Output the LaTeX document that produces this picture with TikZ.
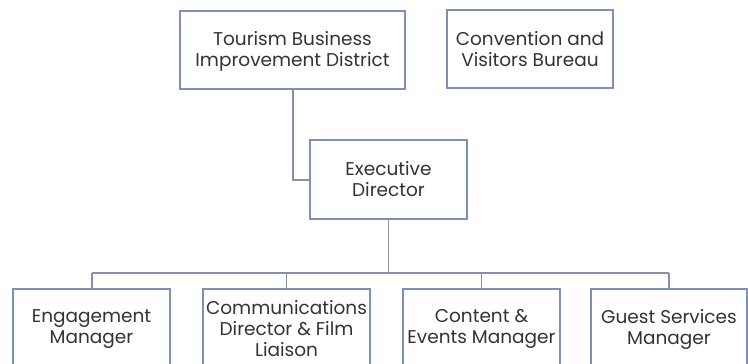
\documentclass[tikz,border=0pt]{standalone}
\usepackage{fontspec}
\setmainfont{Poppins}
\begin{document}
\begin{tikzpicture}[x=1pt,y=-1pt,
  box/.style={draw=boxc, line width=1.2pt, fill=white},
  lbl/.style={align=center, text=txtc, font=\fontsize{18.5}{21}\selectfont, inner sep=0pt},
  conn/.style={draw=linec, line width=1.3pt}]
\definecolor{boxc}{HTML}{7F90B8}
\definecolor{linec}{HTML}{8791AA}
\definecolor{txtc}{HTML}{333333}
\useasboundingbox (0,0) rectangle (748,364);
\clip (0,0) rectangle (748,364);
% connectors
\coordinate (busL) at (92,273);
\coordinate (busR) at (669,273);
\coordinate (bend) at (293,180);
\draw[conn] (293,89) -- (bend) -- (310,180);
\draw[conn] (388.5,219) -- (388.5,273);
\draw[conn] (busL) -- (busR);
\draw[conn] (92,273) -- (92,289);
\draw[conn] (286.5,273) -- (286.5,289);
\draw[conn] (481.5,273) -- (481.5,289);
\draw[conn] (669,273) -- (669,289);
% boxes
\draw[box] (180,11) rectangle (405,89);
\draw[box] (447,10) rectangle (613,88);
\draw[box] (310,140) rectangle (467,219);
\draw[box] (13,289) rectangle (170,380);
\draw[box] (203,289) rectangle (370,380);
\draw[box] (403,289) rectangle (560,380);
\draw[box] (591,289) rectangle (747,380);
% labels
\node[lbl] (tbid) at (292.5,51) {Tourism Business\\Improvement District};
\node[lbl] (cvb) at (530,49.5) {Convention and\\Visitors Bureau};
\node[lbl] (ed) at (388.5,179) {Executive\\Director};
\node[lbl] (em) at (91.5,329) {Engagement\\Manager};
\node[lbl] (cd) at (286.5,329) {Communications\\Director \& Film\\Liaison};
\node[lbl] (ce) at (481.5,329) {Content \&\\Events Manager};
\node[lbl] (gs) at (669,329) {Guest Services\\Manager};
\end{tikzpicture}
\end{document}
